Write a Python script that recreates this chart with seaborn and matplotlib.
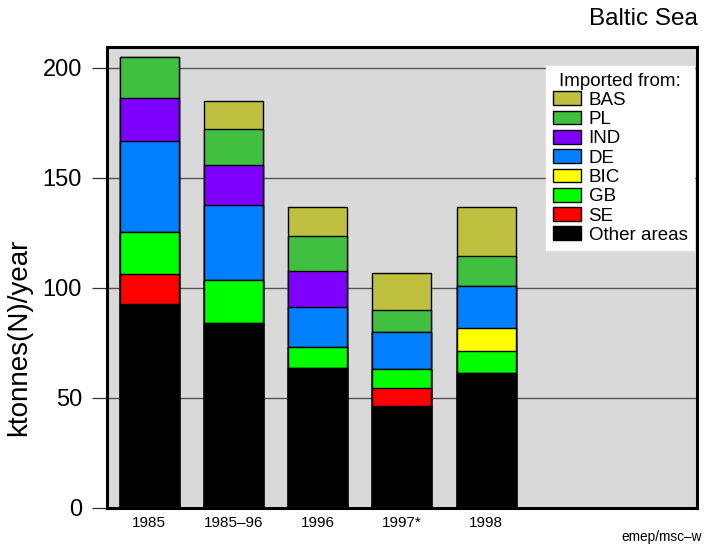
import numpy as np
import pandas as pd
import matplotlib.pyplot as plt
import matplotlib.patches as mpatches
import seaborn as sns

# ── DATA ──────────────────────────────────────────────────────────────────────
periods = ["1985", "1985\u201396", "1996", "1997*", "1998"]
sources = ["Other areas", "SE", "GB", "BIC", "DE", "IND", "PL", "BAS"]

other = [92.7, 84.0, 63.5, 46.4, 61.2]
se = [13.7, 0.0, 0.0, 8.3, 0.0]
gb = [19.1, 19.6, 9.5, 8.6, 10.0]
bic = [0.0, 0.0, 0.0, 0.0, 10.5]
de = [41.3, 34.1, 18.5, 16.6, 19.3]
ind = [19.6, 18.4, 16.4, 0.0, 0.0]
pl = [18.6, 16.0, 15.9, 10.0, 13.7]
bas = [0.0, 12.9, 12.8, 17.1, 22.0]

COLORS = {
    "Other areas": "#000000",
    "SE": "#FF0000",
    "GB": "#00FF00",
    "BIC": "#FFFF00",
    "DE": "#0080FF",
    "IND": "#8000FF",
    "PL": "#40BF40",
    "BAS": "#BFBF40",
}

sns.set_theme(style="white")
plt.rcParams["font.family"] = ["Liberation Sans", "DejaVu Sans"]
plt.rcParams.update({
    "text.color": "black",
    "axes.labelcolor": "black",
    "xtick.color": "black",
    "ytick.color": "#333333",
    "ytick.labelcolor": "black",
})

stack = np.array([other, se, gb, bic, de, ind, pl, bas])
cum = np.cumsum(stack, axis=0)

fig = plt.figure(figsize=(7.04, 5.5), dpi=100)
ax = fig.add_axes([0.152, 0.0764, 0.838, 0.838])
ax.set_facecolor("#D9D9D9")

# draw cumulative totals from the top layer down so each one covers the next
for i in range(len(sources) - 1, -1, -1):
    df = pd.DataFrame({"period": periods, "value": cum[i]})
    sns.barplot(data=df, x="period", y="value", order=periods,
                color=COLORS[sources[i]], saturation=1, width=0.7,
                edgecolor="black", linewidth=1, errorbar=None, ax=ax, zorder=3)

ax.set_xlim(-0.5, 6.5)
ax.set_ylim(0, 209.5)
ax.set_yticks([0, 50, 100, 150, 200])
ax.yaxis.grid(True, color="#555555", linewidth=1)
ax.xaxis.grid(False)
ax.set_axisbelow(True)

for sp in ax.spines.values():
    sp.set_linewidth(2.2)
    sp.set_color("black")

ax.tick_params(axis="y", left=True, length=11, width=0.9, labelsize=17, pad=7)
ax.tick_params(axis="x", bottom=False, labelsize=11, pad=0)
ax.set_xlabel("")
ax.set_ylabel("ktonnes(N)/year", fontsize=20)
ax.yaxis.set_label_coords(-0.127, 0.371)

handles = [mpatches.Patch(facecolor=COLORS[s], edgecolor="black", label=s)
           for s in sources[::-1]]
leg = ax.legend(handles=handles, title="Imported from:", loc="upper right",
                bbox_to_anchor=(0.995, 0.959), borderaxespad=0,
                fontsize=13.5, title_fontsize=13.5,
                frameon=True, fancybox=False, framealpha=1, edgecolor="white",
                handlelength=1.5, handleheight=0.75, handletextpad=0.42,
                labelspacing=0.1, borderpad=0.35)

fig.text(0.992, 0.965, "Baltic Sea", ha="right", va="center", fontsize=17.5)
fig.text(0.997, 0.024, "emep/msc\u2013w", ha="right", va="center", fontsize=9.8)

fig.savefig("out.png", dpi=100)
